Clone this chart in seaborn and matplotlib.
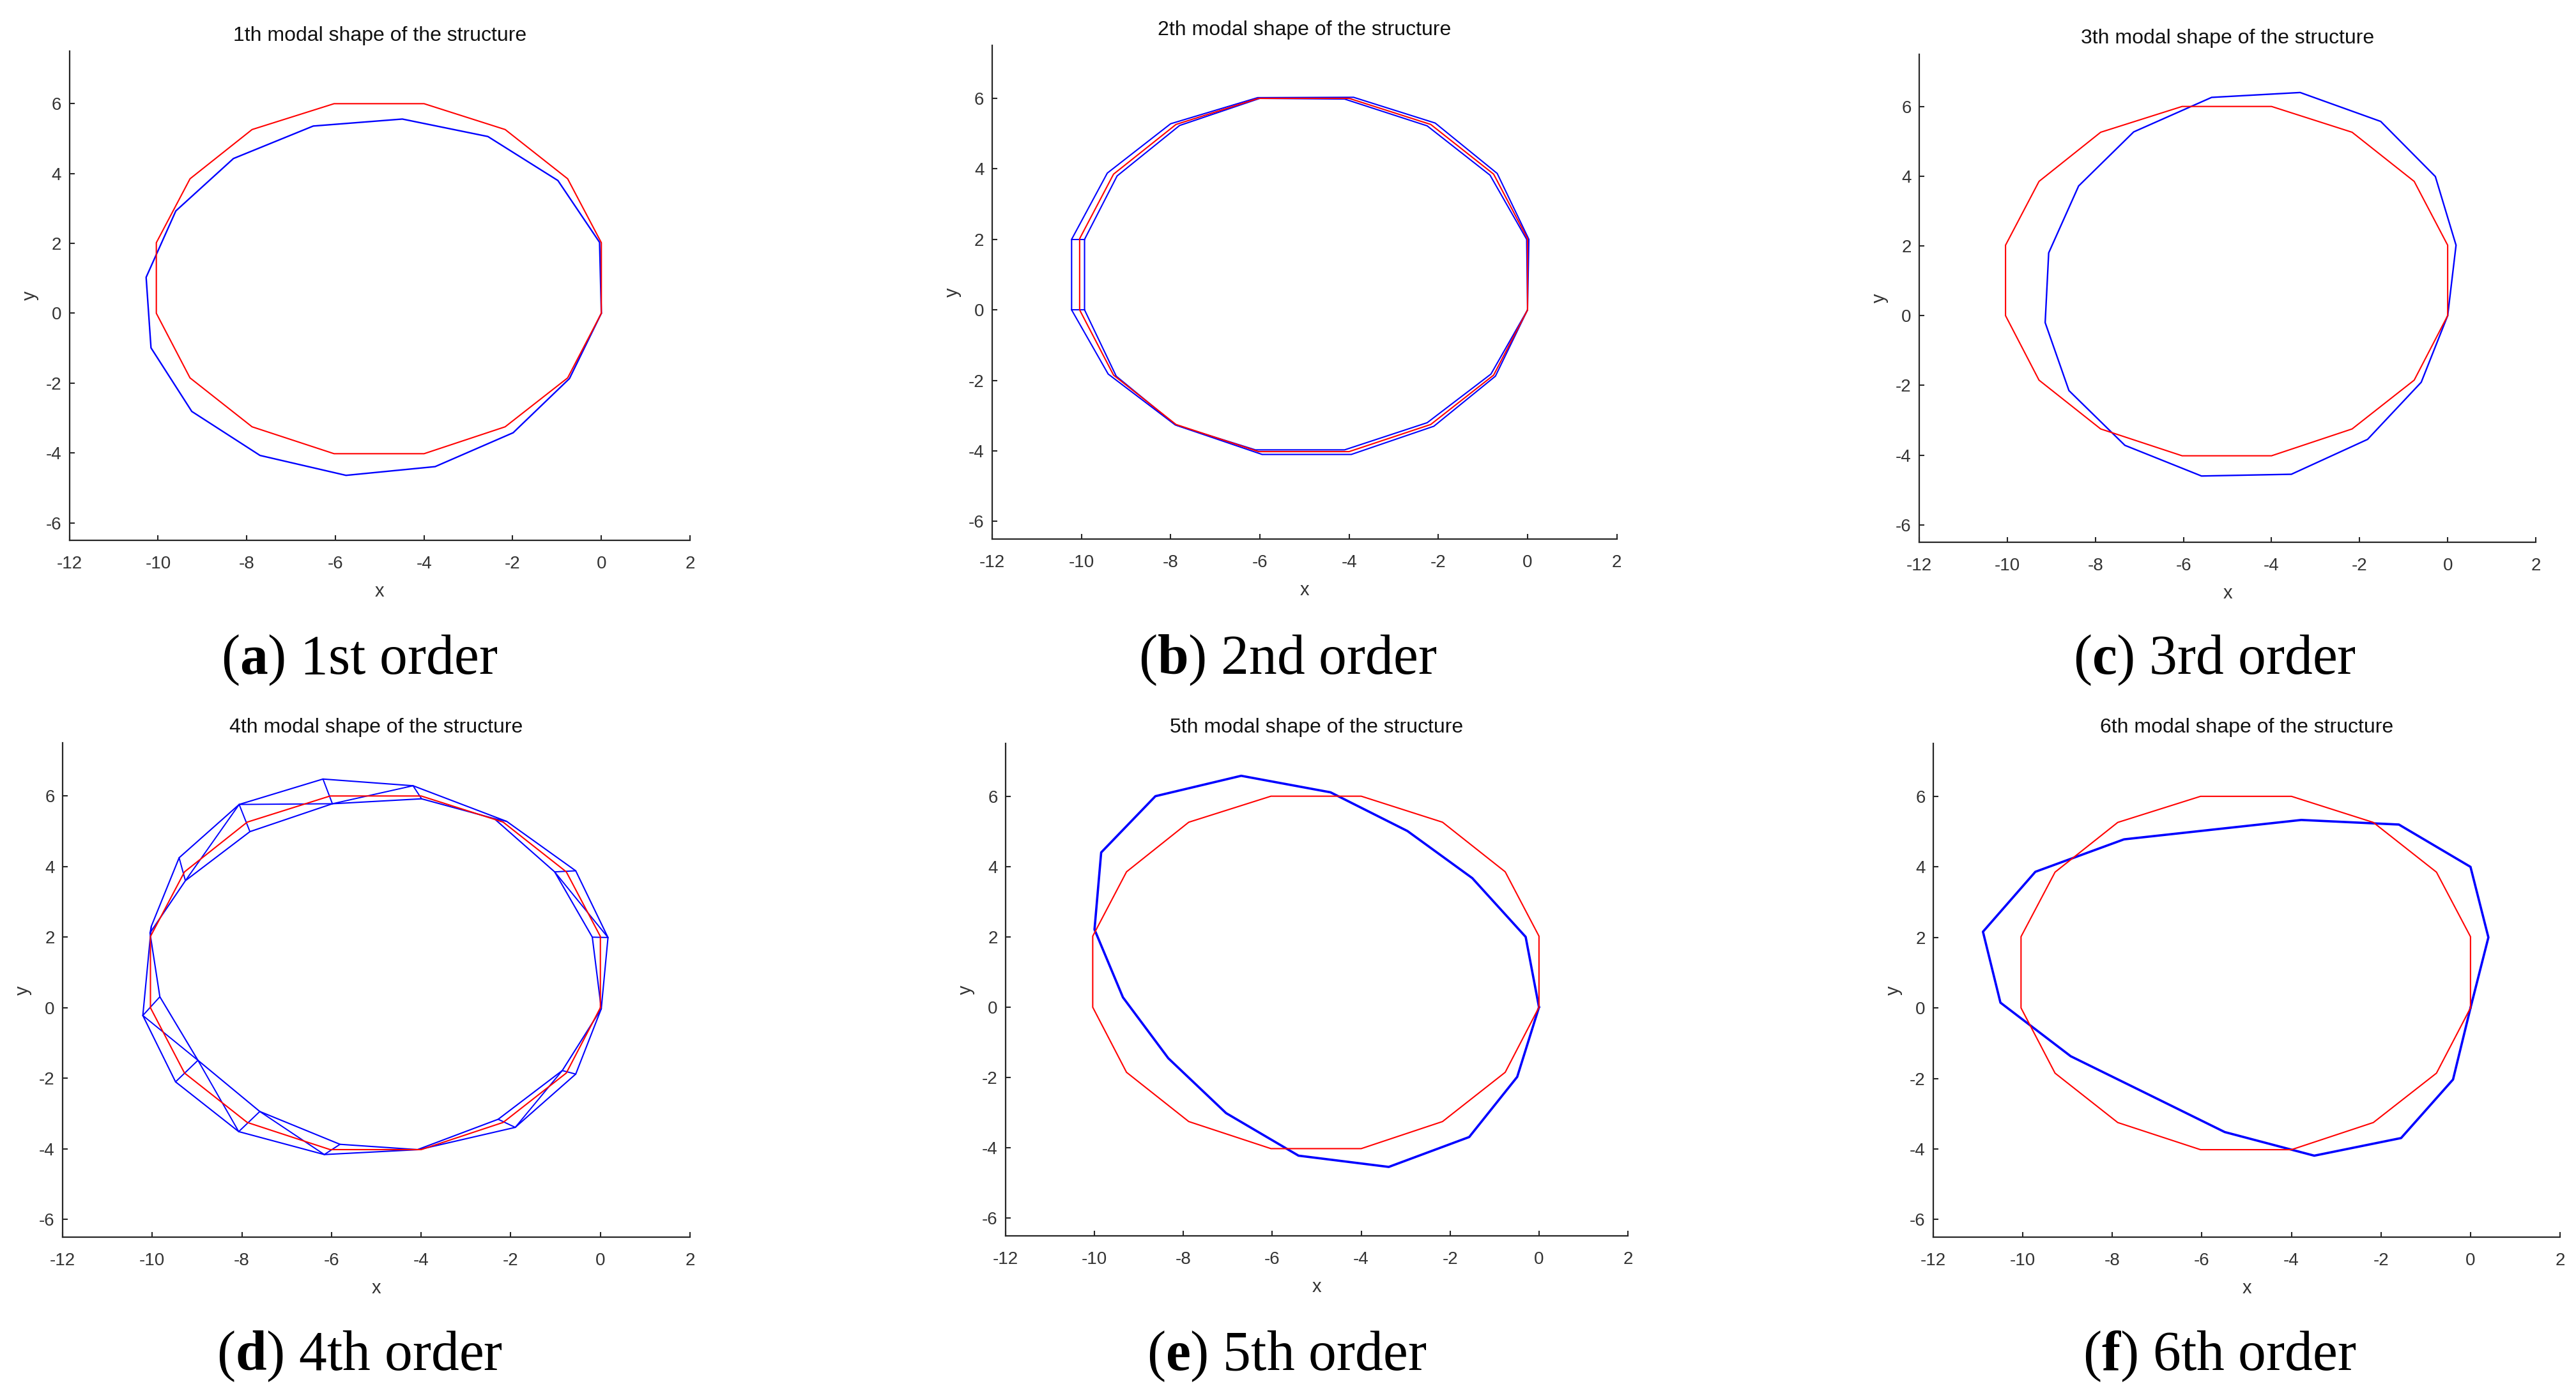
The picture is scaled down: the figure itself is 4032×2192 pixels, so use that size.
import numpy as np
import pandas as pd
import matplotlib
matplotlib.use("Agg")
import matplotlib.pyplot as plt
import seaborn as sns

# ---------------- data ----------------
RING_X = [0.0, 0.0, -0.76, -2.17, -4.0, -6.03, -7.88, -9.28, -10.04, -10.04, -9.28, -7.88, -6.03, -4.0, -2.17, -0.76]
RING_Y = [0.0, 2.02, 3.85, 5.26, 6.0, 6.0, 5.26, 3.85, 2.02, 0.0, -1.85, -3.25, -4.02, -4.02, -3.25, -1.85]

A_X = [0.0, -0.04, -0.98, -2.56, -4.49, -6.5, -8.3, -9.6, -10.27, -10.16, -9.24, -7.7, -5.76, -3.75, -1.99, -0.72]
A_Y = [0.0, 2.03, 3.8, 5.06, 5.56, 5.36, 4.43, 2.93, 1.03, -0.99, -2.81, -4.07, -4.64, -4.39, -3.42, -1.87]

B1_X = [0.0, 0.03, -0.68, -2.07, -3.9, -6.05, -8.0, -9.42, -10.22, -10.22, -9.4, -7.9, -6.1, -4.1, -2.25, -0.82]
B1_Y = [0.0, 2.0, 3.87, 5.3, 6.03, 6.02, 5.28, 3.88, 2.0, 0.0, -1.82, -3.26, -3.97, -3.97, -3.2, -1.82]
B2_X = [0.0, -0.02, -0.84, -2.25, -4.1, -6.0, -7.8, -9.2, -9.93, -9.93, -9.22, -7.88, -5.95, -3.95, -2.1, -0.72]
B2_Y = [0.0, 2.0, 3.82, 5.22, 5.98, 6.0, 5.23, 3.8, 2.0, 0.0, -1.88, -3.27, -4.1, -4.1, -3.3, -1.88]

C_X = [0.0, 0.19, -0.28, -1.52, -3.35, -5.36, -7.13, -8.38, -9.06, -9.14, -8.6, -7.33, -5.59, -3.55, -1.82, -0.6]
C_Y = [0.0, 2.02, 3.99, 5.57, 6.4, 6.26, 5.27, 3.72, 1.8, -0.2, -2.15, -3.72, -4.6, -4.55, -3.55, -1.91]

D1_X = [0.02, 0.17, -0.55, -2.09, -4.18, -6.19, -8.06, -9.4, -10.02, -10.21, -9.48, -8.07, -6.16, -4.05, -1.9, -0.55]
D1_Y = [-0.03, 1.99, 3.88, 5.28, 6.29, 6.48, 5.76, 4.25, 2.31, -0.22, -2.1, -3.51, -4.16, -4.02, -3.39, -1.88]
D2_X = [0.02, -0.18, -1.02, -2.37, -3.99, -5.98, -7.82, -9.26, -10.05, -9.83, -8.98, -7.6, -5.81, -4.08, -2.28, -0.85]
D2_Y = [-0.03, 2.0, 3.85, 5.36, 5.92, 5.78, 4.99, 3.6, 2.12, 0.31, -1.49, -2.94, -3.87, -4.02, -3.16, -1.78]
D_DIAG_1 = [6, 6, 9, 11, 1, 4, 14, 12]   # vertex index on D1
D_DIAG_2 = [5, 7, 10, 10, 2, 5, 15, 11]  # vertex index on D2

E_X = [0.0, -0.3, -1.5, -2.96, -4.69, -6.7, -8.63, -9.85, -10.0, -9.36, -8.34, -7.04, -5.41, -3.38, -1.57, -0.49]
E_Y = [0.0, 2.0, 3.67, 5.01, 6.11, 6.58, 6.0, 4.4, 2.21, 0.28, -1.45, -3.01, -4.22, -4.54, -3.69, -1.98]

F_X = [0.0, 0.4, 0.0, -1.6, -3.78, -5.8, -7.74, -9.72, -10.89, -10.5, -8.93, -7.2, -5.49, -3.49, -1.55, -0.39]
F_Y = [0.0, 2.0, 4.0, 5.2, 5.33, 5.05, 4.78, 3.86, 2.16, 0.15, -1.37, -2.45, -3.52, -4.19, -3.69, -2.03]

TITLES = ["1th modal shape of the structure", "2th modal shape of the structure",
          "3th modal shape of the structure", "4th modal shape of the structure",
          "5th modal shape of the structure", "6th modal shape of the structure"]
LETTERS = ["a", "b", "c", "d", "e", "f"]
ORDERS = ["1st order", "2nd order", "3rd order", "4th order", "5th order", "6th order"]
XTICKS = [-12, -10, -8, -6, -4, -2, 0, 2]
YTICKS = [-6, -4, -2, 0, 2, 4, 6]

# ---------------- style ----------------
sns.set_theme(style="white")
plt.rcParams['font.family'] = ['Liberation Sans', 'DejaVu Sans']
plt.rcParams['axes.unicode_minus'] = False
plt.rcParams['mathtext.fontset'] = 'custom'
plt.rcParams['mathtext.rm'] = 'Liberation Serif'
plt.rcParams['mathtext.bf'] = 'Liberation Serif:bold'

W, H = 4032, 2192
fig = plt.figure(figsize=(W / 100, H / 100), dpi=100)

# axes boxes in pixels: left, right, top, bottom
BOXES = [(108.7, 1080, 80.3, 846), (1553, 2530.6, 71.2, 844), (3004, 3969, 84.8, 849),
         (98, 1080, 1163.4, 1937), (1574, 2548, 1164, 1935), (3026, 4007, 1164, 1937)]
CAP_X = [563, 2016, 3466, 563, 2014, 3474]
CAP_Y = [1055, 1055, 1055, 2145, 2145, 2145]

RED = "#ff0000"
BLUE = "#0000ff"
INK = "#262626"


def closed(xs, ys):
    return pd.DataFrame({"x": list(xs) + [xs[0]], "y": list(ys) + [ys[0]]})


def poly(ax, xs, ys, color, lw):
    sns.lineplot(data=closed(xs, ys), x="x", y="y", sort=False, estimator=None,
                 color=color, lw=lw, ax=ax)


axes = []
for i, (l, r, t, b) in enumerate(BOXES):
    ax = fig.add_axes([l / W, (H - b) / H, (r - l) / W, (b - t) / H])
    axes.append(ax)

blue_sets = [
    [(A_X, A_Y)],
    [(B1_X, B1_Y), (B2_X, B2_Y)],
    [(C_X, C_Y)],
    [(D1_X, D1_Y), (D2_X, D2_Y)],
    [(E_X, E_Y)],
    [(F_X, F_Y)],
]
blue_lw = [1.7, 1.5, 1.7, 1.5, 2.6, 2.6]

for i, ax in enumerate(axes):
    for bx, by in blue_sets[i]:
        poly(ax, bx, by, BLUE, blue_lw[i])
    if i == 3:
        # rungs and diagonals between the two deformed rings
        xs, ys, us = [], [], []
        for k in range(len(D1_X)):
            xs += [D1_X[k], D2_X[k]]; ys += [D1_Y[k], D2_Y[k]]; us += [k, k]
        for k, (p, q) in enumerate(zip(D_DIAG_1, D_DIAG_2)):
            xs += [D1_X[p], D2_X[q]]; ys += [D1_Y[p], D2_Y[q]]; us += [100 + k, 100 + k]
        seg = pd.DataFrame({"x": xs, "y": ys, "u": us})
        sns.lineplot(data=seg, x="x", y="y", units="u", sort=False, estimator=None,
                     color=BLUE, lw=1.4, ax=ax)
    if i == 1:
        seg = pd.DataFrame({"x": [B1_X[8], B2_X[8], B1_X[9], B2_X[9]],
                            "y": [B1_Y[8], B2_Y[8], B1_Y[9], B2_Y[9]],
                            "u": [0, 0, 1, 1]})
        sns.lineplot(data=seg, x="x", y="y", units="u", sort=False, estimator=None,
                     color=BLUE, lw=1.4, ax=ax)
    poly(ax, RING_X, RING_Y, RED, 1.5)

    ax.set_xlim(-12, 2)
    ax.set_ylim(-6.5, 7.5)
    ax.set_xticks(XTICKS)
    ax.set_yticks(YTICKS)
    ax.set_xticklabels([str(v) for v in XTICKS])
    ax.set_yticklabels([str(v) for v in YTICKS])
    for s in ["top", "right"]:
        ax.spines[s].set_visible(False)
    for s in ["left", "bottom"]:
        ax.spines[s].set_color(INK)
        ax.spines[s].set_linewidth(1.6)
    ax.tick_params(axis="both", direction="in", length=5.5, width=1.5, color=INK,
                   labelsize=20, labelcolor="#333333", left=True, bottom=True)
    ax.tick_params(axis="x", pad=17)
    ax.tick_params(axis="y", pad=9)
    ax.set_title(TITLES[i], fontsize=23, color="#111111", pad=12)
    wpx = BOXES[i][1] - BOXES[i][0]
    hpx = BOXES[i][3] - BOXES[i][2]
    ax.set_xlabel("x", fontsize=21, color="#333333")
    ax.set_ylabel("y", fontsize=21, color="#333333")
    ax.xaxis.set_label_coords(0.5, -80 / hpx)
    ax.xaxis.label.set_va("center")
    ax.yaxis.set_label_coords(-62 / wpx, 0.5)
    ax.yaxis.label.set_va("center")

    fig.text(CAP_X[i] / W, 1 - CAP_Y[i] / H,
             r"($\mathbf{" + LETTERS[i] + r"}$) " + ORDERS[i],
             ha="center", va="baseline", fontsize=63, family="Liberation Serif", color="black")

fig.savefig("out.png", dpi=100, facecolor="white")
